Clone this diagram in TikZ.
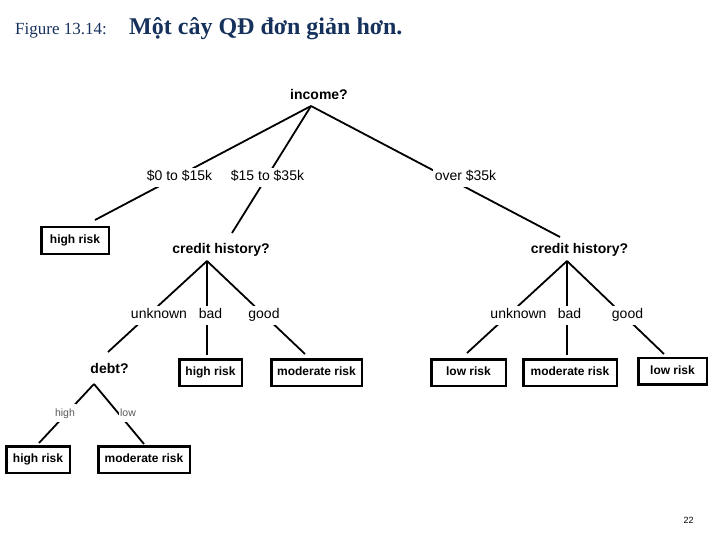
\documentclass[tikz,border=0pt]{standalone}
\usepackage{fontspec}
\setmainfont{Liberation Sans}
\newfontfamily\serifTitle{Liberation Serif}
\definecolor{titleblue}{RGB}{22,50,92}
\begin{document}
\begin{tikzpicture}[x=1pt,y=-1pt,
  q/.style={font=\bfseries\fontsize{14}{16}\selectfont, inner sep=0pt, anchor=base},
  lbl/.style={font=\fontsize{14}{16}\selectfont, fill=white, inner xsep=1.5pt, inner ysep=0pt, text height=10pt, text depth=3pt, minimum height=19pt},
  sm/.style={lbl, font=\fontsize{10.5}{12}\selectfont, text=black!65, minimum height=18pt, text height=8pt, text depth=2pt},
  leaf/.style={draw, line width=2.5pt, font=\bfseries\fontsize{12}{14}\selectfont, minimum height=26.5pt, inner sep=0pt, text height=9pt, text depth=2.5pt},
  edge/.style={line width=1.8pt}]
\useasboundingbox (0,0) rectangle (720,540);

% title
\node[font=\serifTitle\fontsize{17}{20}\selectfont, text=titleblue, anchor=base west, inner sep=0pt] (fig) at (15,34.5) {Figure 13.14:};
\node[font=\serifTitle\bfseries\fontsize{24}{28}\selectfont, text=titleblue, anchor=base west, inner sep=0pt] (ttl) at (129,34.5) {Một cây QĐ đơn giản hơn.};
\node[font=\fontsize{9}{10}\selectfont, anchor=base, inner sep=0pt] (pg) at (688.5,523) {22};

% question nodes
\node[q] (inc) at (319,100) {income?};
\node[q] (ch1) at (221,253) {credit history?};
\node[q] (ch2) at (579.5,253) {credit history?};
\node[q] (debt) at (109.5,373) {debt?};

% leaves
\node[leaf, minimum width=67.5pt] (hr1) at (75,240.5) {high risk};
\node[leaf, minimum width=62.5pt] (hr2) at (210.5,372.5) {high risk};
\node[leaf, minimum width=90.5pt] (mr1) at (316.5,372.5) {moderate risk};
\node[leaf, minimum width=74.5pt] (lr1) at (468.5,372.5) {low risk};
\node[leaf, minimum width=93.5pt] (mr2) at (570,372.5) {moderate risk};
\node[leaf, minimum width=68.5pt] (lr2) at (672.5,371) {low risk};
\node[leaf, minimum width=63.5pt] (hr3) at (38,459.5) {high risk};
\node[leaf, minimum width=91.5pt] (mr3) at (144,459.5) {moderate risk};

% apexes and connector ends
\coordinate (a0) at (311,106);
\coordinate (b1) at (207,261);
\coordinate (b2) at (567,261);
\coordinate (d0) at (94,384);
\coordinate (t1) at (95,220);
\coordinate (t2) at (232,233);
\coordinate (t3) at (560,237);
\coordinate (t4) at (108,352);
\coordinate (t5) at (207,355);
\coordinate (t6) at (305,354);
\coordinate (t7) at (467,353);
\coordinate (t8) at (567,355);
\coordinate (t9) at (664,354);
\coordinate (t10) at (39,443);
\coordinate (t11) at (144,444);

\draw[edge] (a0) -- (t1);
\draw[edge] (a0) -- (t2);
\draw[edge] (a0) -- (t3);
\draw[edge] (b1) -- (t4);
\draw[edge] (b1) -- (t5);
\draw[edge] (b1) -- (t6);
\draw[edge] (b2) -- (t7);
\draw[edge] (b2) -- (t8);
\draw[edge] (b2) -- (t9);
\draw[edge] (d0) -- (t10);
\draw[edge] (d0) -- (t11);

% edge labels
\node[lbl] (l1) at (179.5,177.5) {\$0 to \$15k};
\node[lbl] (l2) at (267.5,177.5) {\$15 to \$35k};
\node[lbl] (l3) at (465.5,177.5) {over \$35k};
\node[lbl] (l4) at (159,315) {unknown};
\node[lbl] (l5) at (210.5,315) {bad};
\node[lbl] (l6) at (264,315) {good};
\node[lbl] (l7) at (518.5,315) {unknown};
\node[lbl] (l8) at (569.5,315) {bad};
\node[lbl] (l9) at (627.5,315) {good};
\node[sm] (l10) at (65,413) {high};
\node[sm] (l11) at (128,413) {low};
\end{tikzpicture}
\end{document}
